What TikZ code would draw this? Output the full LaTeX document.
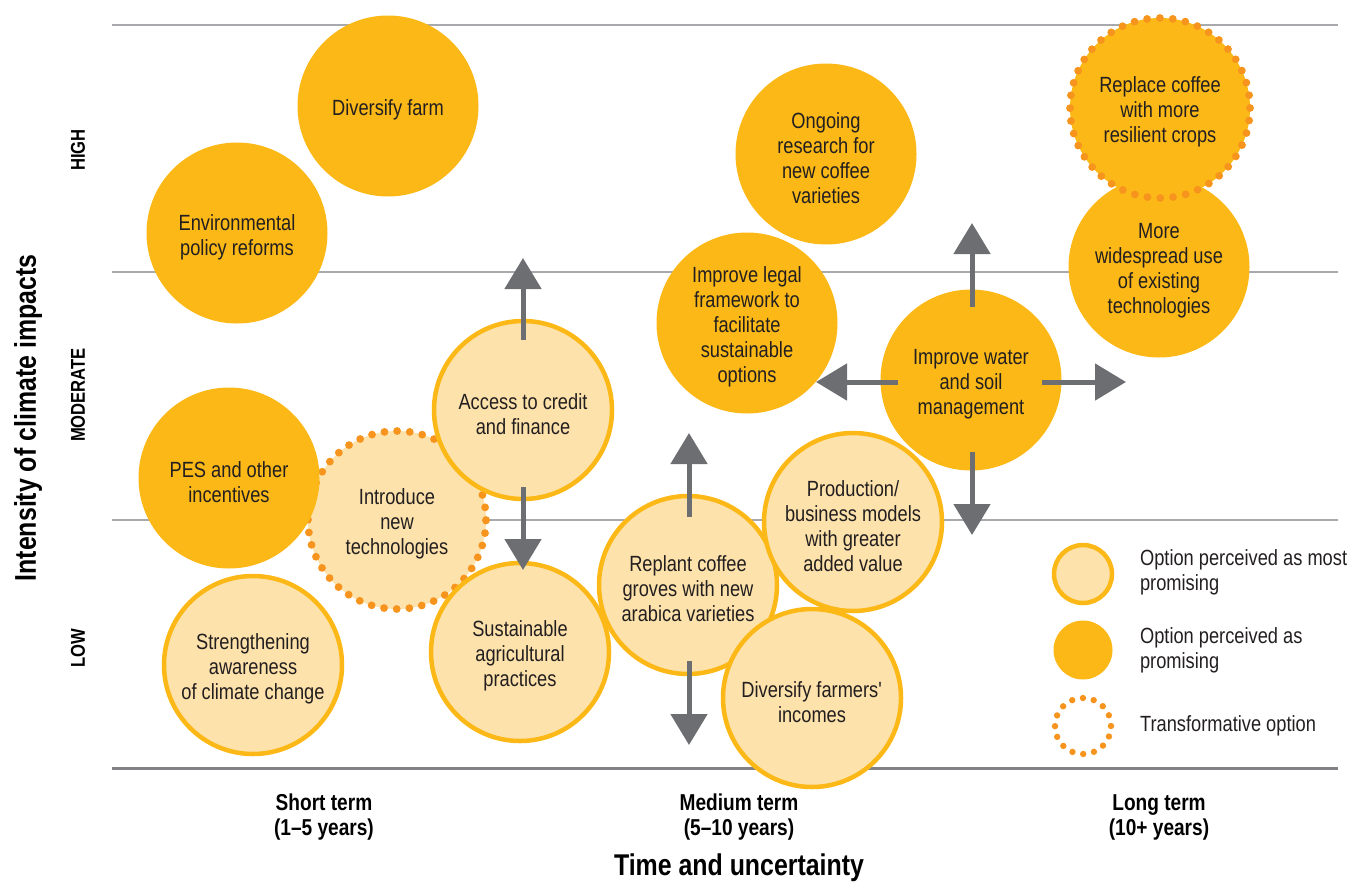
\documentclass[tikz,border=0pt]{standalone}
\usepackage{fontspec}
\setmainfont{Liberation Sans}[FakeStretch=0.83]
\usetikzlibrary{arrows.meta}

\definecolor{goldfill}{HTML}{FBB817}
\definecolor{palefill}{HTML}{FDE2AB}
\definecolor{dotorange}{HTML}{F7941D}
\definecolor{arrowgray}{HTML}{6D6E71}
\definecolor{textdark}{HTML}{231F20}
\definecolor{rulegray}{HTML}{A7A9AC}
\definecolor{basegray}{HTML}{808285}

\newcommand{\circfont}{\fontsize{11}{12.5}\selectfont}

\begin{document}
\begin{tikzpicture}[x=0.5pt, y=-0.5pt,
  caption/.style={align=center, font=\circfont, text=textdark, inner sep=0pt, yshift=-2pt},
  option/.style={circle, inner sep=0pt},
  gold/.style={option, fill=goldfill, minimum size=90.5pt},
  pale/.style={option, fill=palefill, draw=goldfill, line width=2.25pt, minimum size=89pt},
  transform/.style={draw=dotorange, line width=3.9pt, line cap=round, dash pattern=on 0pt off 6.35pt},
  rule/.style={draw=rulegray, line width=0.75pt},
  baserule/.style={draw=basegray, line width=1.5pt},
  garrow/.style={draw=arrowgray, line width=2.5pt, -{Triangle[length=15.5pt,width=18pt]}},
  levellabel/.style={rotate=90, font=\fontsize{10}{12}\selectfont\bfseries},
  termlabel/.style={align=center, font=\fontsize{11.5}{12.5}\selectfont\bfseries},
  axistitle/.style={font=\fontsize{15}{18}\selectfont\bfseries},
  legendtext/.style={anchor=west, align=left, font=\circfont, text=textdark}
]
\useasboundingbox (0,0) rectangle (1354,884);

% horizontal bands
\coordinate (r1a) at (112,25);  \coordinate (r1b) at (1338,25);
\coordinate (r2a) at (112,272); \coordinate (r2b) at (1338,272);
\coordinate (r3a) at (112,520); \coordinate (r3b) at (1338,520);
\coordinate (r4a) at (112,768); \coordinate (r4b) at (1338,768);
\draw[rule] (r1a) -- (r1b);
\draw[rule] (r2a) -- (r2b);
\draw[rule] (r3a) -- (r3b);
\draw[baserule] (r4a) -- (r4b);

% options, back to front
\node[gold, label={[caption]center:Diversify farm}] (divfarm) at (388,106) {};
\node[gold, label={[caption]center:{Environmental\\policy reforms}}] (envpol) at (237,233) {};
\node[pale, transform, label={[caption]center:{Introduce\\new\\technologies}}] (newtech) at (397,520) {};
\node[gold, label={[caption]center:{PES and other\\incentives}}] (pes) at (229,478) {};
\node[pale, label={[caption]center:{Access to credit\\and finance}}] (credit) at (523,410) {};
\node[pale, label={[caption]center:{Strengthening\\awareness\\of climate change}}] (aware) at (253,665) {};
\node[pale, label={[caption]center:{Sustainable\\agricultural\\practices}}] (sustag) at (520,652) {};
\node[pale, label={[caption]center:{Replant coffee\\groves with new\\arabica varieties}}] (replant) at (688,585) {};
\node[pale, label={[caption]center:{Production/\\business models\\with greater\\added value}}] (prodmod) at (853,522) {};
\node[pale, label={[caption]center:{Diversify farmers\textquotesingle\\incomes}}] (divinc) at (812,698) {};
\node[gold, label={[caption]center:{Improve legal\\framework to\\facilitate\\sustainable\\options}}] (legal) at (747,323) {};
\node[gold, label={[caption]center:{Ongoing\\research for\\new coffee\\varieties}}] (research) at (826,154) {};
\node[gold, label={[caption]center:{Improve water\\and soil\\management}}] (water) at (971,380) {};
\node[gold, label={[caption]center:{More\\widespread use\\of existing\\technologies}}] (widespread) at (1159,267) {};
\node[gold, transform, minimum size=90pt, dash pattern=on 0pt off 6.43pt, label={[caption]center:{Replace coffee\\with more\\resilient crops}}] (replace) at (1160,108) {};

% direction arrows
\coordinate (creditUs) at (523,340); \coordinate (creditUe) at (523,258);
\coordinate (creditDs) at (523,487); \coordinate (creditDe) at (523,570);
\coordinate (replantUs) at (689,517); \coordinate (replantUe) at (689,433);
\coordinate (replantDs) at (689,661); \coordinate (replantDe) at (689,745);
\coordinate (waterUs) at (972,307); \coordinate (waterUe) at (972,223);
\coordinate (waterDs) at (972,452); \coordinate (waterDe) at (972,535);
\coordinate (waterLs) at (898,382); \coordinate (waterLe) at (816,382);
\coordinate (waterRs) at (1042,382); \coordinate (waterRe) at (1126,382);
\draw[garrow] (creditUs) -- (creditUe);
\draw[garrow] (creditDs) -- (creditDe);
\draw[garrow] (replantUs) -- (replantUe);
\draw[garrow] (replantDs) -- (replantDe);
\draw[garrow] (waterUs) -- (waterUe);
\draw[garrow] (waterDs) -- (waterDe);
\draw[garrow] (waterLs) -- (waterLe);
\draw[garrow] (waterRs) -- (waterRe);

% legend
\node[pale, minimum size=29pt] (keymost) at (1083,574) {};
\node[gold, minimum size=29.5pt] (keyprom) at (1083,650) {};
\node[circle, inner sep=0pt, minimum size=28pt, draw=dotorange, line width=3.2pt, line cap=round, dash pattern=on 0pt off 5.5pt] (keytrans) at (1083,726) {};
\node[legendtext] (keymostt) at (1133,572) {Option perceived as most\\promising};
\node[legendtext] (keypromt) at (1133,650) {Option perceived as\\promising};
\node[legendtext] (keytranst) at (1133,726) {Transformative option};

% axes
\node[axistitle, rotate=90] (ytitle) at (28,418) {Intensity of climate impacts};
\node[levellabel] (lvhigh) at (78,150) {HIGH};
\node[levellabel] (lvmod) at (78,395) {MODERATE};
\node[levellabel] (lvlow) at (78,648) {LOW};
\node[termlabel] (tshort) at (324,817) {Short term\\(1–5 years)};
\node[termlabel] (tmed) at (739,817) {Medium term\\(5–10 years)};
\node[termlabel] (tlong) at (1159,817) {Long term\\(10+ years)};
\node[axistitle] (xtitle) at (739,868) {Time and uncertainty};
\end{tikzpicture}
\end{document}
